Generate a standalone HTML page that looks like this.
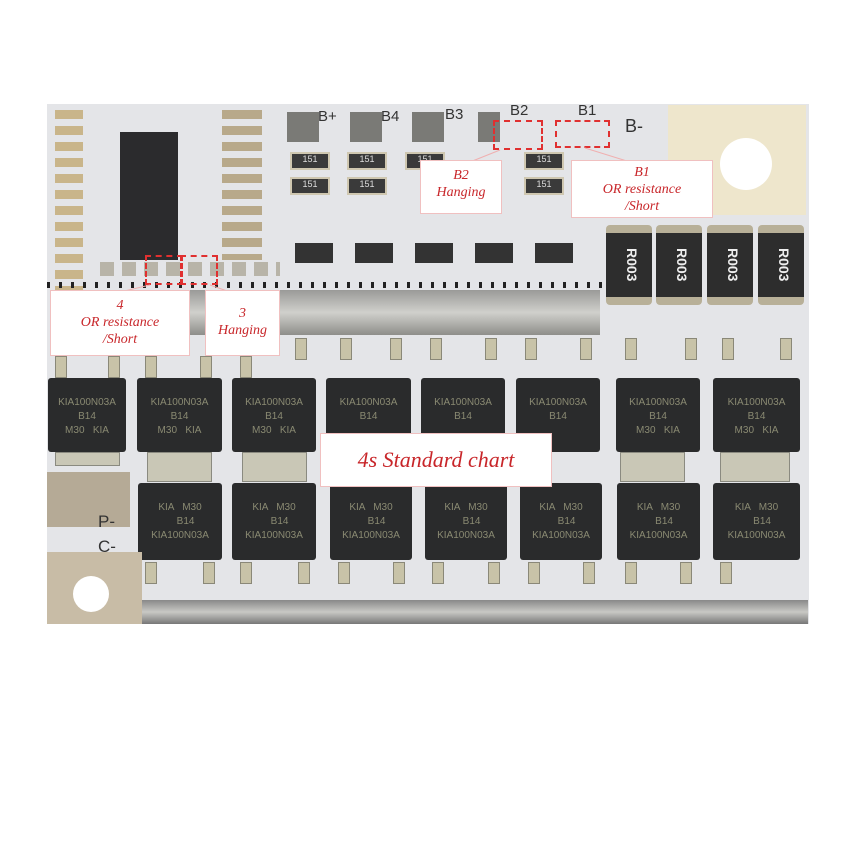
<!DOCTYPE html>
<html><head><style>
body{margin:0;width:862px;height:862px;background:#fff;position:relative;overflow:hidden;font-family:"Liberation Sans",sans-serif}
div{position:absolute;box-sizing:border-box}
.m{background:#2a2b2c;border-radius:3px;color:#8a8a72;font-size:10px;text-align:center;padding-top:18px;line-height:14px}
.tab{background:#c9c7b6;border:1px solid #8a8a80}
.lbl{background:#fff;border:1px solid #f0c0c0;color:#c8262a;font-family:"Liberation Serif",serif;font-style:italic;text-align:center;font-size:14px;line-height:17px}
.r{background:#3a3a3a;border:2px solid #cfc7b0;color:#ddd;font-size:9px;text-align:center}
.res{background:#2d2d2d;border-top:8px solid #b8b098;border-bottom:8px solid #b8b098;border-radius:4px;color:#eee;font-size:14px;font-weight:bold;writing-mode:vertical-rl;text-align:center;line-height:40px}
.pad{background:#7a7a76}
.dash{border:2px dashed #e03030}
.lead{width:12px;height:22px;background:#c8c3a8;border:1px solid #8a8878}
</style></head><body>
<div style="left:47px;top:104px;width:762px;height:520px;background:#e4e5e8"></div>
<div style="left:120px;top:132px;width:58px;height:128px;background:#2b2b2d"></div>
<div style="left:55px;top:110px;width:28px;height:185px;background:repeating-linear-gradient(#c9b58a 0 9px,#e4e5e8 9px 16px)"></div>
<div style="left:222px;top:110px;width:40px;height:150px;background:repeating-linear-gradient(#b8a98a 0 9px,#e4e5e8 9px 16px)"></div>
<div style="left:100px;top:262px;width:180px;height:14px;background:repeating-linear-gradient(90deg,#b8b4a8 0 14px,#e4e5e8 14px 22px)"></div>
<div class="pad" style="left:287px;top:112px;width:32px;height:30px"></div>
<div class="pad" style="left:350px;top:112px;width:32px;height:30px"></div>
<div class="pad" style="left:412px;top:112px;width:32px;height:30px"></div>
<div class="pad" style="left:478px;top:112px;width:22px;height:30px"></div>
<div style="left:318px;top:108px;font-size:15px;color:#333">B+</div>
<div style="left:381px;top:108px;font-size:15px;color:#333">B4</div>
<div style="left:445px;top:106px;font-size:15px;color:#333">B3</div>
<div style="left:510px;top:102px;font-size:15px;color:#333">B2</div>
<div style="left:578px;top:102px;font-size:15px;color:#333">B1</div>
<div style="left:625px;top:116px;font-size:18px;color:#333">B-</div>
<div class="r" style="left:290px;top:152px;width:40px;height:18px">151</div>
<div class="r" style="left:290px;top:177px;width:40px;height:18px">151</div>
<div class="r" style="left:347px;top:152px;width:40px;height:18px">151</div>
<div class="r" style="left:347px;top:177px;width:40px;height:18px">151</div>
<div class="r" style="left:405px;top:152px;width:40px;height:18px">151</div>
<div class="r" style="left:524px;top:152px;width:40px;height:18px">151</div>
<div class="r" style="left:524px;top:177px;width:40px;height:18px">151</div>
<div style="left:295px;top:243px;width:280px;height:20px;background:repeating-linear-gradient(90deg,#333 0 38px,transparent 38px 60px)"></div>
<div style="left:47px;top:282px;width:560px;height:6px;background:repeating-linear-gradient(90deg,#222 0 3px,transparent 3px 12px)"></div>
<div class="dash" style="left:145px;top:255px;width:38px;height:30px"></div>
<div class="dash" style="left:180px;top:255px;width:38px;height:30px"></div>
<div class="dash" style="left:493px;top:120px;width:50px;height:30px"></div>
<div class="dash" style="left:555px;top:120px;width:55px;height:28px"></div>
<svg style="position:absolute;left:0;top:0" width="862" height="862"><g stroke="#f0b0b0" stroke-width="1"><line x1="500" y1="150" x2="470" y2="162"/><line x1="585" y1="148" x2="630" y2="162"/><line x1="150" y1="285" x2="120" y2="292"/><line x1="210" y1="285" x2="230" y2="292"/></g></svg>
<div style="left:668px;top:105px;width:138px;height:110px;background:#eee6cc"></div>
<div style="left:720px;top:138px;width:52px;height:52px;border-radius:50%;background:#fff"></div>
<div class="res" style="left:606px;top:225px;width:46px;height:80px">R003</div>
<div class="res" style="left:656px;top:225px;width:46px;height:80px">R003</div>
<div class="res" style="left:707px;top:225px;width:46px;height:80px">R003</div>
<div class="res" style="left:758px;top:225px;width:46px;height:80px">R003</div>
<div style="left:190px;top:290px;width:410px;height:45px;background:linear-gradient(#9a9a98,#d0d0cc,#8e8e8a)"></div>
<!-- leads top -->
<div class="lead" style="left:295px;top:338px"></div><div class="lead" style="left:340px;top:338px"></div><div class="lead" style="left:390px;top:338px"></div>
<div class="lead" style="left:430px;top:338px"></div><div class="lead" style="left:485px;top:338px"></div><div class="lead" style="left:525px;top:338px"></div>
<div class="lead" style="left:580px;top:338px"></div><div class="lead" style="left:625px;top:338px"></div><div class="lead" style="left:685px;top:338px"></div>
<div class="lead" style="left:722px;top:338px"></div><div class="lead" style="left:780px;top:338px"></div>
<div class="lead" style="left:55px;top:356px"></div><div class="lead" style="left:108px;top:356px"></div><div class="lead" style="left:145px;top:356px"></div>
<div class="lead" style="left:200px;top:356px"></div><div class="lead" style="left:240px;top:356px"></div>
<div class="m" style="left:48px;top:378px;width:78px;height:74px">KIA100N03A<br>B14<br>M30 &nbsp; KIA</div>
<div class="m" style="left:137px;top:378px;width:85px;height:74px">KIA100N03A<br>B14<br>M30 &nbsp; KIA</div>
<div class="m" style="left:232px;top:378px;width:84px;height:74px">KIA100N03A<br>B14<br>M30 &nbsp; KIA</div>
<div class="m" style="left:326px;top:378px;width:85px;height:74px">KIA100N03A<br>B14</div>
<div class="m" style="left:421px;top:378px;width:84px;height:74px">KIA100N03A<br>B14</div>
<div class="m" style="left:516px;top:378px;width:84px;height:74px">KIA100N03A<br>B14</div>
<div class="m" style="left:616px;top:378px;width:84px;height:74px">KIA100N03A<br>B14<br>M30 &nbsp; KIA</div>
<div class="m" style="left:713px;top:378px;width:87px;height:74px">KIA100N03A<br>B14<br>M30 &nbsp; KIA</div>
<div class="tab" style="left:55px;top:452px;width:65px;height:14px"></div>
<div class="tab" style="left:147px;top:452px;width:65px;height:30px"></div>
<div class="tab" style="left:242px;top:452px;width:65px;height:30px"></div>
<div class="tab" style="left:620px;top:452px;width:65px;height:30px"></div>
<div class="tab" style="left:720px;top:452px;width:70px;height:30px"></div>
<div class="m" style="left:138px;top:483px;width:84px;height:77px">KIA &nbsp; M30<br>&nbsp; &nbsp; B14<br>KIA100N03A</div>
<div class="m" style="left:232px;top:483px;width:84px;height:77px">KIA &nbsp; M30<br>&nbsp; &nbsp; B14<br>KIA100N03A</div>
<div class="m" style="left:330px;top:483px;width:82px;height:77px">KIA &nbsp; M30<br>&nbsp; &nbsp; B14<br>KIA100N03A</div>
<div class="m" style="left:425px;top:483px;width:82px;height:77px">KIA &nbsp; M30<br>&nbsp; &nbsp; B14<br>KIA100N03A</div>
<div class="m" style="left:520px;top:483px;width:82px;height:77px">KIA &nbsp; M30<br>&nbsp; &nbsp; B14<br>KIA100N03A</div>
<div class="m" style="left:617px;top:483px;width:83px;height:77px">KIA &nbsp; M30<br>&nbsp; &nbsp; B14<br>KIA100N03A</div>
<div class="m" style="left:713px;top:483px;width:87px;height:77px">KIA &nbsp; M30<br>&nbsp; &nbsp; B14<br>KIA100N03A</div>
<!-- leads bottom -->
<div class="lead" style="left:145px;top:562px"></div><div class="lead" style="left:203px;top:562px"></div>
<div class="lead" style="left:240px;top:562px"></div><div class="lead" style="left:298px;top:562px"></div>
<div class="lead" style="left:338px;top:562px"></div><div class="lead" style="left:393px;top:562px"></div>
<div class="lead" style="left:432px;top:562px"></div><div class="lead" style="left:488px;top:562px"></div>
<div class="lead" style="left:528px;top:562px"></div><div class="lead" style="left:583px;top:562px"></div>
<div class="lead" style="left:625px;top:562px"></div><div class="lead" style="left:680px;top:562px"></div>
<div class="lead" style="left:720px;top:562px"></div>
<div style="left:47px;top:472px;width:83px;height:55px;background:#b5aa96"></div>
<div style="left:98px;top:512px;font-size:17px;color:#333">P-</div>
<div style="left:98px;top:537px;font-size:17px;color:#333">C-</div>
<div style="left:47px;top:552px;width:95px;height:72px;background:#c8bca6"></div>
<div style="left:73px;top:576px;width:36px;height:36px;border-radius:50%;background:#fff"></div>
<div style="left:142px;top:600px;width:666px;height:24px;background:linear-gradient(#888,#c8c8c4,#777)"></div>
<div class="lbl" style="left:420px;top:160px;width:82px;height:54px;padding-top:6px">B2<br>Hanging</div>
<div class="lbl" style="left:571px;top:160px;width:142px;height:58px;padding-top:3px">B1<br>OR resistance<br>/Short</div>
<div class="lbl" style="left:50px;top:290px;width:140px;height:66px;padding-top:6px">4<br>OR resistance<br>/Short</div>
<div class="lbl" style="left:205px;top:290px;width:75px;height:66px;padding-top:14px">3<br>Hanging</div>
<div class="lbl" style="left:320px;top:433px;width:232px;height:54px;font-size:22px;line-height:52px">4s Standard chart</div>
</body></html>
